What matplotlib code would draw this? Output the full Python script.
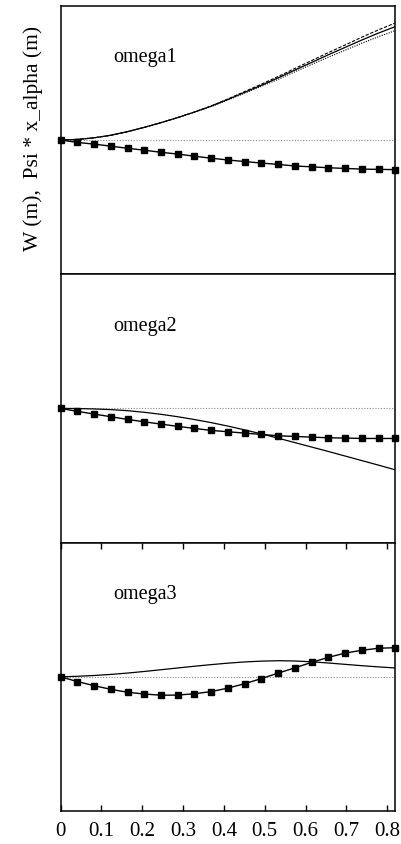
import numpy as np
import matplotlib
matplotlib.use('Agg')
import matplotlib.pyplot as plt

plt.rcParams['font.family'] = ['Liberation Serif', 'DejaVu Serif']

# ----data (arbitrary units)----
x = [0.000, 0.041, 0.082, 0.123, 0.164, 0.205, 0.246, 0.287, 0.328, 0.369, 0.410,
     0.451, 0.492, 0.533, 0.574, 0.615, 0.656, 0.697, 0.738, 0.779, 0.820]
xticks = [0, 0.1, 0.2, 0.3, 0.4, 0.5, 0.6, 0.7, 0.8]
xticklabels = ['0', '0.1', '0.2', '0.3', '0.4', '0.5', '0.6', '0.7', '0.8']
mode_names = ['omega1', 'omega2', 'omega3']

# bending W, three near-identical solutions for omega1
w1_solid = [0.000, 0.004, 0.016, 0.035, 0.062, 0.094, 0.129, 0.167, 0.208, 0.252, 0.302,
            0.355, 0.408, 0.463, 0.521, 0.578, 0.635, 0.690, 0.745, 0.797, 0.845]
w1_dashed = [0.000, 0.004, 0.016, 0.035, 0.062, 0.094, 0.129, 0.167, 0.209, 0.254, 0.306,
             0.361, 0.416, 0.473, 0.533, 0.592, 0.651, 0.708, 0.766, 0.821, 0.872]
w1_dotted = [0.000, 0.004, 0.016, 0.035, 0.062, 0.094, 0.129, 0.167, 0.207, 0.250, 0.298,
             0.349, 0.400, 0.452, 0.508, 0.563, 0.617, 0.669, 0.721, 0.770, 0.815]
w2_solid = [0.000, -0.001, -0.004, -0.009, -0.017, -0.029, -0.044, -0.062, -0.083, -0.106, -0.132,
            -0.160, -0.190, -0.222, -0.255, -0.288, -0.321, -0.355, -0.389, -0.423, -0.458]
w3_solid = [0.000, 0.004, 0.010, 0.018, 0.028, 0.040, 0.053, 0.066, 0.079, 0.091, 0.102,
            0.111, 0.117, 0.120, 0.118, 0.112, 0.103, 0.093, 0.083, 0.074, 0.066]

# torsion Psi * x_alpha (square markers)
p1 = [0.000, -0.018, -0.031, -0.046, -0.062, -0.076, -0.092, -0.105, -0.121, -0.136, -0.149,
      -0.161, -0.172, -0.182, -0.194, -0.200, -0.207, -0.212, -0.217, -0.219, -0.221]
p2 = [0.000, -0.022, -0.042, -0.062, -0.082, -0.100, -0.117, -0.134, -0.149, -0.164, -0.174,
      -0.184, -0.194, -0.204, -0.209, -0.214, -0.219, -0.221, -0.224, -0.224, -0.224]
p3 = [0.000, -0.035, -0.066, -0.093, -0.115, -0.128, -0.137, -0.136, -0.126, -0.110, -0.084,
      -0.051, -0.013, 0.028, 0.067, 0.108, 0.145, 0.177, 0.198, 0.213, 0.217]

solids = [w1_solid, w2_solid, w3_solid]
squares = [p1, p2, p3]

#----initiate plots----
fig, axes = plt.subplots(3, 1, sharex=True, figsize=(4.01, 8.45), dpi=100)
fig.subplots_adjust(left=0.151, right=0.986, top=0.992, bottom=0.039, hspace=0)

for i, ax in enumerate(axes):
    ax.axhline(0, color='#888888', lw=0.8, ls=(0, (1, 1.5)), zorder=1)
    ax.plot(x, solids[i], color='black', lw=0.9, zorder=2)
    if i == 0:
        ax.plot(x, w1_dashed, color='black', lw=0.8, ls=(0, (3, 1.5)), zorder=2)
        ax.plot(x, w1_dotted, color='black', lw=0.8, ls=(0, (1, 1.2)), zorder=2)
    ax.plot(x, squares[i], color='black', lw=1.0, marker='s', ms=4,
            mfc='black', mec='black', zorder=3, clip_on=False)
    ax.set_xlim(0, 0.82)
    ax.set_ylim(-1, 1)
    ax.set_yticks([])
    ax.text(0.157, 0.81, mode_names[i], transform=ax.transAxes, fontsize=14.5,
            ha='left', va='center')
    for s in ax.spines.values():
        s.set_linewidth(1.1)
    ax.tick_params(axis='x', which='both', length=0, labelbottom=False)

# only the bottom panel carries x ticks (inward, top and bottom)
ax3 = axes[2]
ax3.set_xticks(xticks)
ax3.set_xticklabels(xticklabels)
ax3.tick_params(axis='x', direction='in', length=4, width=1, top=True, bottom=True,
                labelbottom=True, labelsize=15, pad=7)

axes[0].set_ylabel('W (m),  Psi * x_alpha (m)', fontsize=15.5)
axes[0].yaxis.set_label_coords(-0.052, 0.51)

plt.savefig('out.png', dpi=100, facecolor='white')
